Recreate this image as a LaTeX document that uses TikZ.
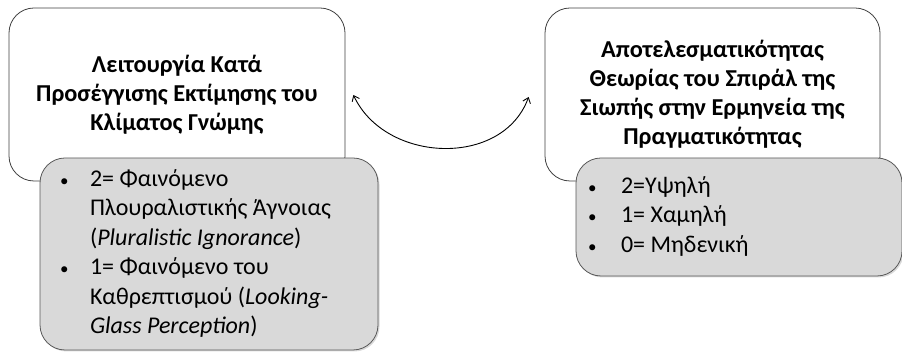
\documentclass[tikz,border=0pt]{standalone}
\usepackage{fontspec}
\setmainfont{Carlito}
\usepackage{array}
\usetikzlibrary{arrows.meta,shadows}

\newcommand{\dotmark}{{\fontsize{17}{17}\selectfont\textbullet}}

\begin{document}
\begin{tikzpicture}[x=1pt, y=1pt, >={Straight Barb[length=5pt,width=8pt]},
    titlebox/.style={draw=black!75, fill=white, line width=0.8pt, rounded corners=25pt,
        align=center, font=\fontsize{24.3}{29}\selectfont\bfseries},
    listbox/.style={draw=black!65, fill=black!15, line width=0.8pt, rounded corners=25pt,
        drop shadow={opacity=0.3, shadow xshift=1.5pt, shadow yshift=-1.5pt},
        inner sep=0pt, font=\fontsize{24}{29.5}\selectfont}]
    \useasboundingbox (0,0) rectangle (902,352);

    % titles
    \node[titlebox, minimum width=336pt, minimum height=173pt] (lt) at (177,257.5)
        {Λειτουργία Κατά\\Προσέγγισης Εκτίμησης του\\Κλίματος Γνώμης};
    \node[titlebox, minimum width=335pt, minimum height=173pt] (rt) at (712.5,257.5)
        {Αποτελεσματικότητας\\Θεωρίας του Σπιράλ της\\Σιωπής στην Ερμηνεία της\\Πραγματικότητας};

    % values
    \node[listbox, minimum width=338pt, minimum height=192pt] (ll) at (209,98) {%
        \begin{tabular}{@{}p{30pt}@{}p{268pt}@{}}
        \dotmark & 2= Φαινόμενο\\
                 & Πλουραλιστικής Άγνοιας\\
                 & (\textit{Pluralistic Ignorance})\\
        \dotmark & 1= Φαινόμενο του\\
                 & Καθρεπτισμού (\textit{Looking-}\\
                 & \textit{Glass Perception})
        \end{tabular}};
    \node[listbox, minimum width=326pt, minimum height=118pt] (rl) at (739,135) {%
        \begin{tabular}{@{}p{33pt}@{}p{269pt}@{}}
        \dotmark & 2=Υψηλή\\
        \dotmark & 1= Χαμηλή\\
        \dotmark & 0= Μηδενική
        \end{tabular}};

    % relation
    \draw[<->, line width=0.9pt] ([xshift=8pt,yshift=-0.5pt]lt.east)
        to[out=-65, in=-110, looseness=1.1] ([xshift=-16pt,yshift=-2.5pt]rt.west);
\end{tikzpicture}
\end{document}
